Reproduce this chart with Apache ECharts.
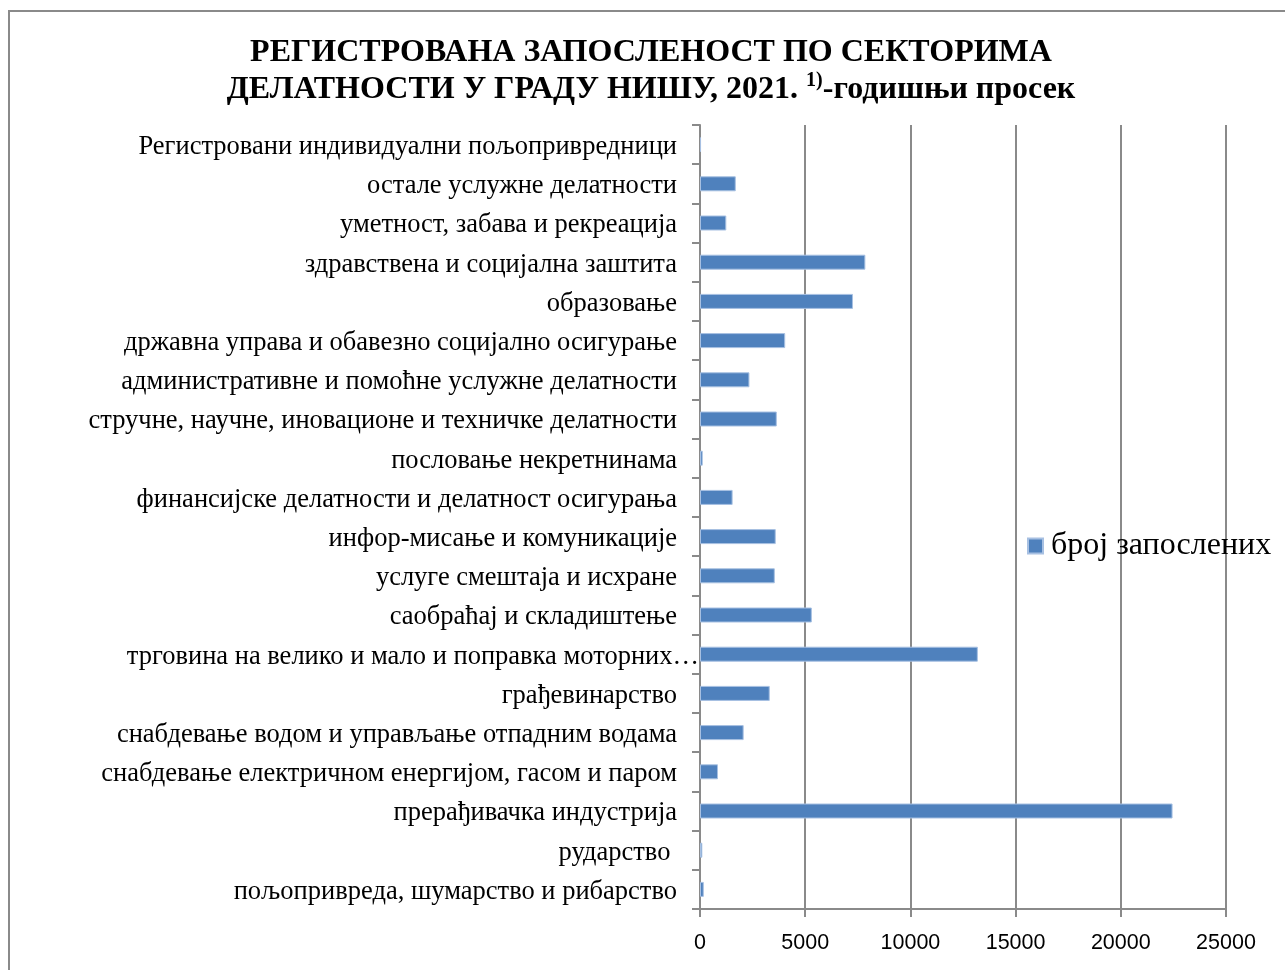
<!DOCTYPE html>
<html>
<head>
<meta charset="utf-8">
<script src="https://cdn.jsdelivr.net/npm/echarts@6/dist/echarts.min.js"></script>
<style>
html,body{margin:0;padding:0;background:#fff;}
#c{width:1285px;height:970px;}
</style>
</head>
<body>
<div id="c"></div>
<script>
var categories = [
  'пољопривреда, шумарство и рибарство',
  'рударство ',
  'прерађивачка индустрија',
  'снабдевање електричном енергијом, гасом и паром',
  'снабдевање водом и управљање отпадним водама',
  'грађевинарство',
  'трговина на велико и мало и поправка моторних…',
  'саобраћај и складиштење',
  'услуге смештаја и исхране',
  'инфор-мисање и комуникације',
  'финансијске делатности и делатност осигурања',
  'пословање некретнинама',
  'стручне, научне, иновационе и техничке делатности',
  'административне и помоћне услужне делатности',
  'државна управа и обавезно социјално осигурање',
  'образовање',
  'здравствена и социјална заштита',
  'уметност, забава и рекреација',
  'остале услужне делатности',
  'Регистровани индивидуални пољопривредници'
];
var employees = [180, 110, 22460, 855, 2075, 3315, 13205, 5315, 3555, 3600, 1550, 130, 3650, 2350, 4050, 7270, 7860, 1250, 1700, 50];
var seriesName = 'број запослених';
var xTicks = [0, 5000, 10000, 15000, 20000, 25000];
var titleLine1 = 'РЕГИСТРОВАНА ЗАПОСЛЕНОСТ ПО СЕКТОРИМА';
var titleLine2a = 'ДЕЛАТНОСТИ У ГРАДУ НИШУ, 2021. ';
var titleSup = '1)';
var titleLine2b = '-годишњи просек';

var chart = echarts.init(document.getElementById('c'), null, {renderer: 'canvas'});
var serif = '"Liberation Serif", "Times New Roman", serif';
var truncated = categories[6];

chart.setOption({
  backgroundColor: '#fff',
  animation: false,
  title: {
    left: 646,
    top: 29,
    textAlign: 'center',
    text: '{t|' + titleLine1 + '}\n{t|' + titleLine2a + '}{s|' + titleSup + '}{t|' + titleLine2b + '}',
    textStyle: {
      rich: {
        t: {fontFamily: serif, fontWeight: 'bold', fontSize: 32, color: '#000', lineHeight: 37},
        s: {fontFamily: serif, fontWeight: 'bold', fontSize: 20, color: '#000', lineHeight: 37, verticalAlign: 'top', padding: [0, 0, 14, 0]}
      }
    }
  },
  graphic: [{
    type: 'rect',
    shape: {x: 9, y: 11, width: 1300, height: 1000},
    style: {fill: 'none', stroke: '#8a8a8a', lineWidth: 2},
    silent: true, z: -1
  }],
  legend: {
    left: 1027,
    top: 530,
    padding: 0,
    itemWidth: 15,
    itemHeight: 15,
    icon: 'rect',
    data: [seriesName],
    textStyle: {fontFamily: serif, fontSize: 32, color: '#000', padding: [0, 0, 0, 3]}
  },
  grid: {left: 700, right: 59, top: 125, bottom: 61, containLabel: false},
  xAxis: {
    type: 'value',
    min: 0,
    max: 25000,
    interval: 5000,
    axisLine: {show: true, lineStyle: {color: '#8a8a8a', width: 2}},
    axisTick: {show: true, length: 8, lineStyle: {color: '#8a8a8a', width: 2}},
    splitLine: {show: true, lineStyle: {color: '#8a8a8a', width: 2}},
    axisLabel: {
      margin: 23,
      fontFamily: '"Liberation Sans", Arial, sans-serif',
      fontSize: 21.5,
      color: '#000',
      formatter: function (v) { return xTicks.indexOf(v) >= 0 ? String(v) : ''; }
    }
  },
  yAxis: {
    type: 'category',
    data: categories,
    axisLine: {show: true, lineStyle: {color: '#8a8a8a', width: 2}},
    axisTick: {show: true, length: 8, lineStyle: {color: '#8a8a8a', width: 2}},
    splitLine: {show: false},
    axisLabel: {
      margin: 1,
      interval: 0,
      formatter: function (v) {
        return v === truncated ? '{b|' + v + '}' : '{n|' + v + '}';
      },
      rich: {
        n: {fontFamily: serif, fontSize: 26.5, color: '#000', padding: [5, 22, 0, 0]},
        b: {fontFamily: serif, fontSize: 26.5, color: '#000', padding: [5, 0, 0, 0]}
      }
    }
  },
  series: [{
    name: seriesName,
    type: 'bar',
    data: employees,
    barWidth: 15,
    itemStyle: {color: '#4F81BD', borderColor: '#a7c0e2', borderWidth: 1}
  }]
});
</script>
</body>
</html>
